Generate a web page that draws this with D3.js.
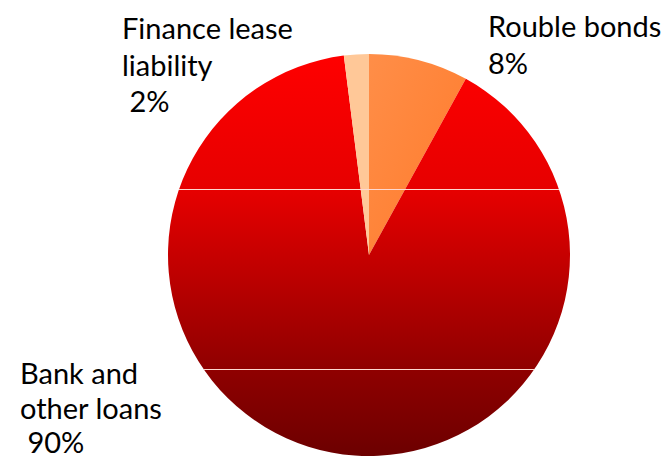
<!DOCTYPE html>
<html>
<head>
<meta charset="utf-8">
<script src="https://cdn.jsdelivr.net/npm/d3@7"></script>
<style>
  html, body { margin: 0; padding: 0; background: #fff; }
  svg { display: block; }
  text { font-family: Lato, "Open Sans", sans-serif; fill: #000; }
</style>
</head>
<body>
<svg id="chart" width="671" height="460"></svg>
<script>
// Debt structure by source
const categories = ["Rouble bonds", "Bank and other loans", "Finance lease liability"];
const shares = [8, 90, 2];
const labelLines = [
  ["Rouble bonds", "8%"],
  ["Bank and", "other loans", " 90%"],
  ["Finance lease", "liability", " 2%"]
];

const width = 671, height = 460;
const cx = 369, cy = 255, radius = 201;

const svg = d3.select("#chart");
const defs = svg.append("defs");

// Fills for the slices (coordinates are relative to the pie centre)
const gBank = defs.append("linearGradient")
  .attr("id", "grad-bank").attr("gradientUnits", "userSpaceOnUse")
  .attr("x1", 0).attr("y1", -radius).attr("x2", 0).attr("y2", radius);
[[0, "#ff0000"], [0.34, "#e60000"], [0.78, "#900000"], [1, "#6c0000"]].forEach(([o, c]) =>
  gBank.append("stop").attr("offset", o).attr("stop-color", c));

const gBond = defs.append("linearGradient")
  .attr("id", "grad-bond").attr("x1", 0).attr("y1", 0).attr("x2", 1).attr("y2", 1);
gBond.append("stop").attr("offset", 0).attr("stop-color", "#ff8e48");
gBond.append("stop").attr("offset", 1).attr("stop-color", "#ff7a2a");

const fills = ["url(#grad-bond)", "url(#grad-bank)", "#ffc898"];

defs.append("clipPath").attr("id", "pie-clip")
  .append("circle").attr("cx", cx).attr("cy", cy).attr("r", radius);

const pie = d3.pie().sort(null).value(d => d)
  .startAngle(0).endAngle(2 * Math.PI);
const arc = d3.arc().innerRadius(0).outerRadius(radius);

const g = svg.append("g").attr("transform", `translate(${cx},${cy})`);
g.selectAll("path.slice")
  .data(pie(shares))
  .join("path")
  .attr("class", "slice")
  .attr("d", arc)
  .attr("fill", (d, i) => fills[i]);

// Faint horizontal bands across the disc
const bandY = [189, 369];
svg.append("g").attr("clip-path", "url(#pie-clip)")
  .selectAll("line").data(bandY).join("line")
  .attr("x1", cx - radius).attr("x2", cx + radius)
  .attr("y1", d => d + 0.5).attr("y2", d => d + 0.5)
  .attr("stroke", "#ffd8d0").attr("stroke-width", 1);

// Category labels
const labelPos = [
  { x: 488, y: 37, gap: 37 },
  { x: 20, y: 384, gap: 34.5 },
  { x: 122, y: 39, gap: 36.5 }
];
const fontSize = 29;

labelLines.forEach((lines, i) => {
  const p = labelPos[i];
  const t = svg.append("text")
    .attr("x", p.x).attr("y", p.y)
    .attr("font-size", fontSize)
    .attr("xml:space", "preserve")
    .style("white-space", "pre");
  lines.forEach((ln, j) => {
    t.append("tspan")
      .attr("x", p.x)
      .attr("y", p.y + j * p.gap)
      .text(ln);
  });
});
</script>
</body>
</html>
